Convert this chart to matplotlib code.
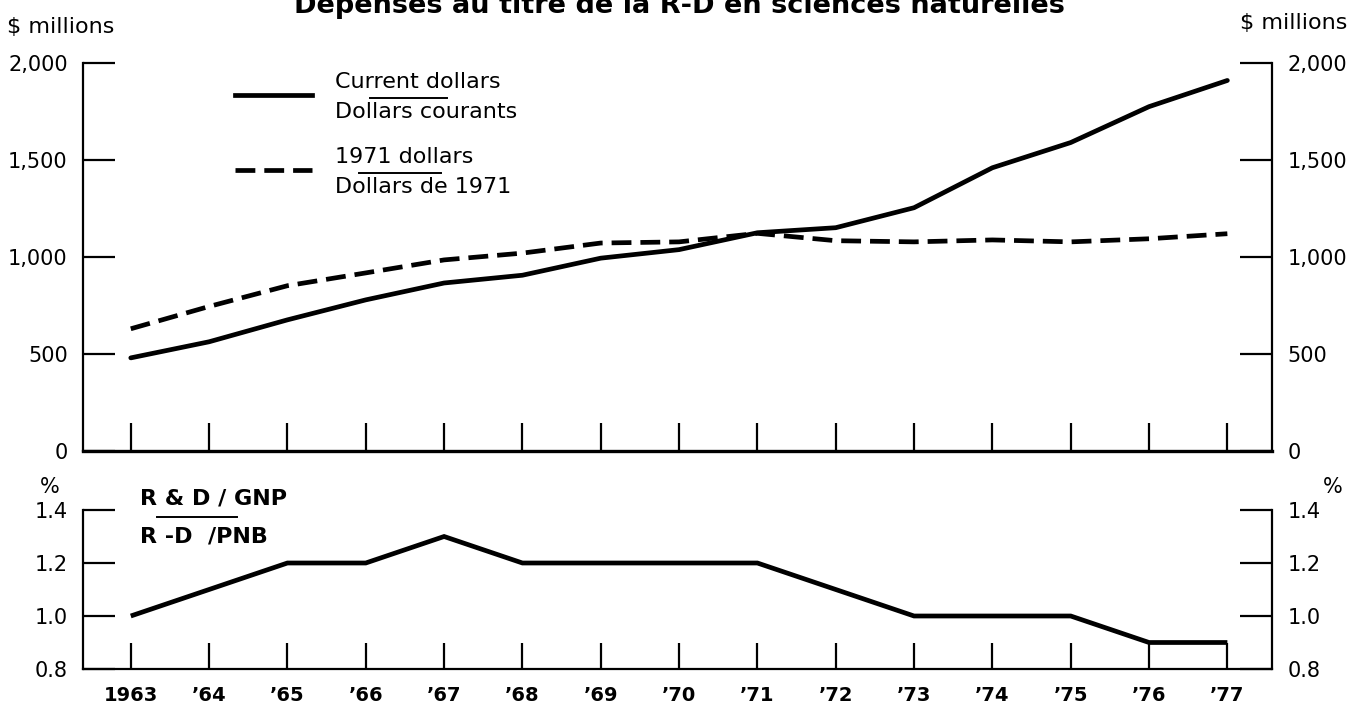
import matplotlib.pyplot as plt
from matplotlib.lines import Line2D

plt.rcParams['font.family'] = ['DejaVu Sans']

# data
years = list(range(1963, 1978))
year_labels = ['1963', '\u201964', '\u201965', '\u201966', '\u201967', '\u201968', '\u201969', '\u201970',
               '\u201971', '\u201972', '\u201973', '\u201974', '\u201975', '\u201976', '\u201977']
current_dollars = [480, 563, 676, 779, 866, 906, 994, 1038, 1125, 1151, 1254, 1460, 1590, 1775, 1910]
dollars_1971 = [630, 745, 852, 918, 985, 1020, 1072, 1078, 1122, 1084, 1078, 1088, 1078, 1094, 1120]
rd_gnp = [1.0, 1.1, 1.2, 1.2, 1.3, 1.2, 1.2, 1.2, 1.2, 1.1, 1.0, 1.0, 1.0, 0.9, 0.9]

upper_ticks = [0, 500, 1000, 1500, 2000]
upper_ticklabels = ['0', '500', '1,000', '1,500', '2,000']
lower_ticks = [0.8, 1.0, 1.2, 1.4]
lower_ticklabels = ['0.8', '1.0', '1.2', '1.4']

W, H = 1352, 705
fig = plt.figure(figsize=(W / 100, H / 100), dpi=100)


def fx(px):
    return px / W


def fy(py):
    return 1 - py / H


ax1 = fig.add_axes([fx(83), fy(451), fx(1272) - fx(83), fy(63) - fy(451)])
ax2 = fig.add_axes([fx(83), fy(669), fx(1272) - fx(83), fy(510) - fy(669)])

lw = 3.4
dash = (4.2, 1.9)

ax1.plot(years, current_dollars, color='black', lw=lw, solid_capstyle='round')
ax1.plot(years, dollars_1971, color='black', lw=lw, dashes=dash, dash_capstyle='butt')
ax2.plot(years, rd_gnp, color='black', lw=lw, solid_capstyle='butt', solid_joinstyle='miter')

for ax in (ax1, ax2):
    ax.set_xlim(1962.39, 1977.57)
    ax.set_xticks(years)
    ax.spines['top'].set_visible(False)
    for s in ('left', 'right', 'bottom'):
        ax.spines[s].set_linewidth(1.6)
    ax.tick_params(axis='y', direction='in', length=23, width=1.6, left=True, right=True,
                   labelleft=True, labelright=True, labelsize=15, pad=11)
    ax.tick_params(axis='x', direction='in', width=1.6)

ax1.spines['bottom'].set_linewidth(2.4)
ax1.set_ylim(0, 2000)
ax1.set_yticks(upper_ticks)
ax1.set_yticklabels(upper_ticklabels)
ax1.tick_params(axis='x', length=20, labelbottom=False)

ax2.set_ylim(0.8, 1.4)
ax2.set_yticks(lower_ticks)
ax2.set_yticklabels(lower_ticklabels)
ax2.tick_params(axis='x', length=18.5, labelsize=14, pad=12)
ax2.set_xticklabels(year_labels, fontweight='bold')

# unit labels
fig.text(fx(7), fy(27), '$ millions', fontsize=16, va='center', ha='left')
fig.text(fx(1347), fy(23), '$ millions', fontsize=16, va='center', ha='right')
fig.text(fx(50), fy(487), '%', fontsize=15, va='center', ha='center')
fig.text(fx(1333), fy(487), '%', fontsize=15, va='center', ha='center')

# title (cut off at the top edge in the original)
fig.text(fx(679), fy(13), 'D\u00e9penses au titre de la R-D en sciences naturelles',
         fontsize=19.5, fontweight='bold', ha='center', va='baseline')

# bilingual legend
fig.add_artist(Line2D([fx(235), fx(312)], [fy(95), fy(95)], color='black', lw=lw))
fig.add_artist(Line2D([fx(235), fx(312)], [fy(170), fy(170)], color='black', lw=lw,
                      dashes=dash, dash_capstyle='butt'))
fig.text(fx(335), fy(82), 'Current dollars', fontsize=16, va='center')
fig.text(fx(335), fy(112), 'Dollars courants', fontsize=16, va='center')
fig.text(fx(335), fy(157), '1971 dollars', fontsize=16, va='center')
fig.text(fx(335), fy(187), 'Dollars de 1971', fontsize=16, va='center')
fig.add_artist(Line2D([fx(370), fx(447)], [fy(98), fy(98)], color='black', lw=1.4))
fig.add_artist(Line2D([fx(359), fx(441)], [fy(173), fy(173)], color='black', lw=1.4))

# R&D / GNP label
fig.text(fx(140), fy(499), 'R & D / GNP', fontsize=16, fontweight='bold', va='center')
fig.text(fx(140), fy(536), 'R -D  /PNB', fontsize=16, fontweight='bold', va='center')
fig.add_artist(Line2D([fx(157), fx(237)], [fy(517), fy(517)], color='black', lw=1.4))

fig.savefig('out.png', dpi=100)
